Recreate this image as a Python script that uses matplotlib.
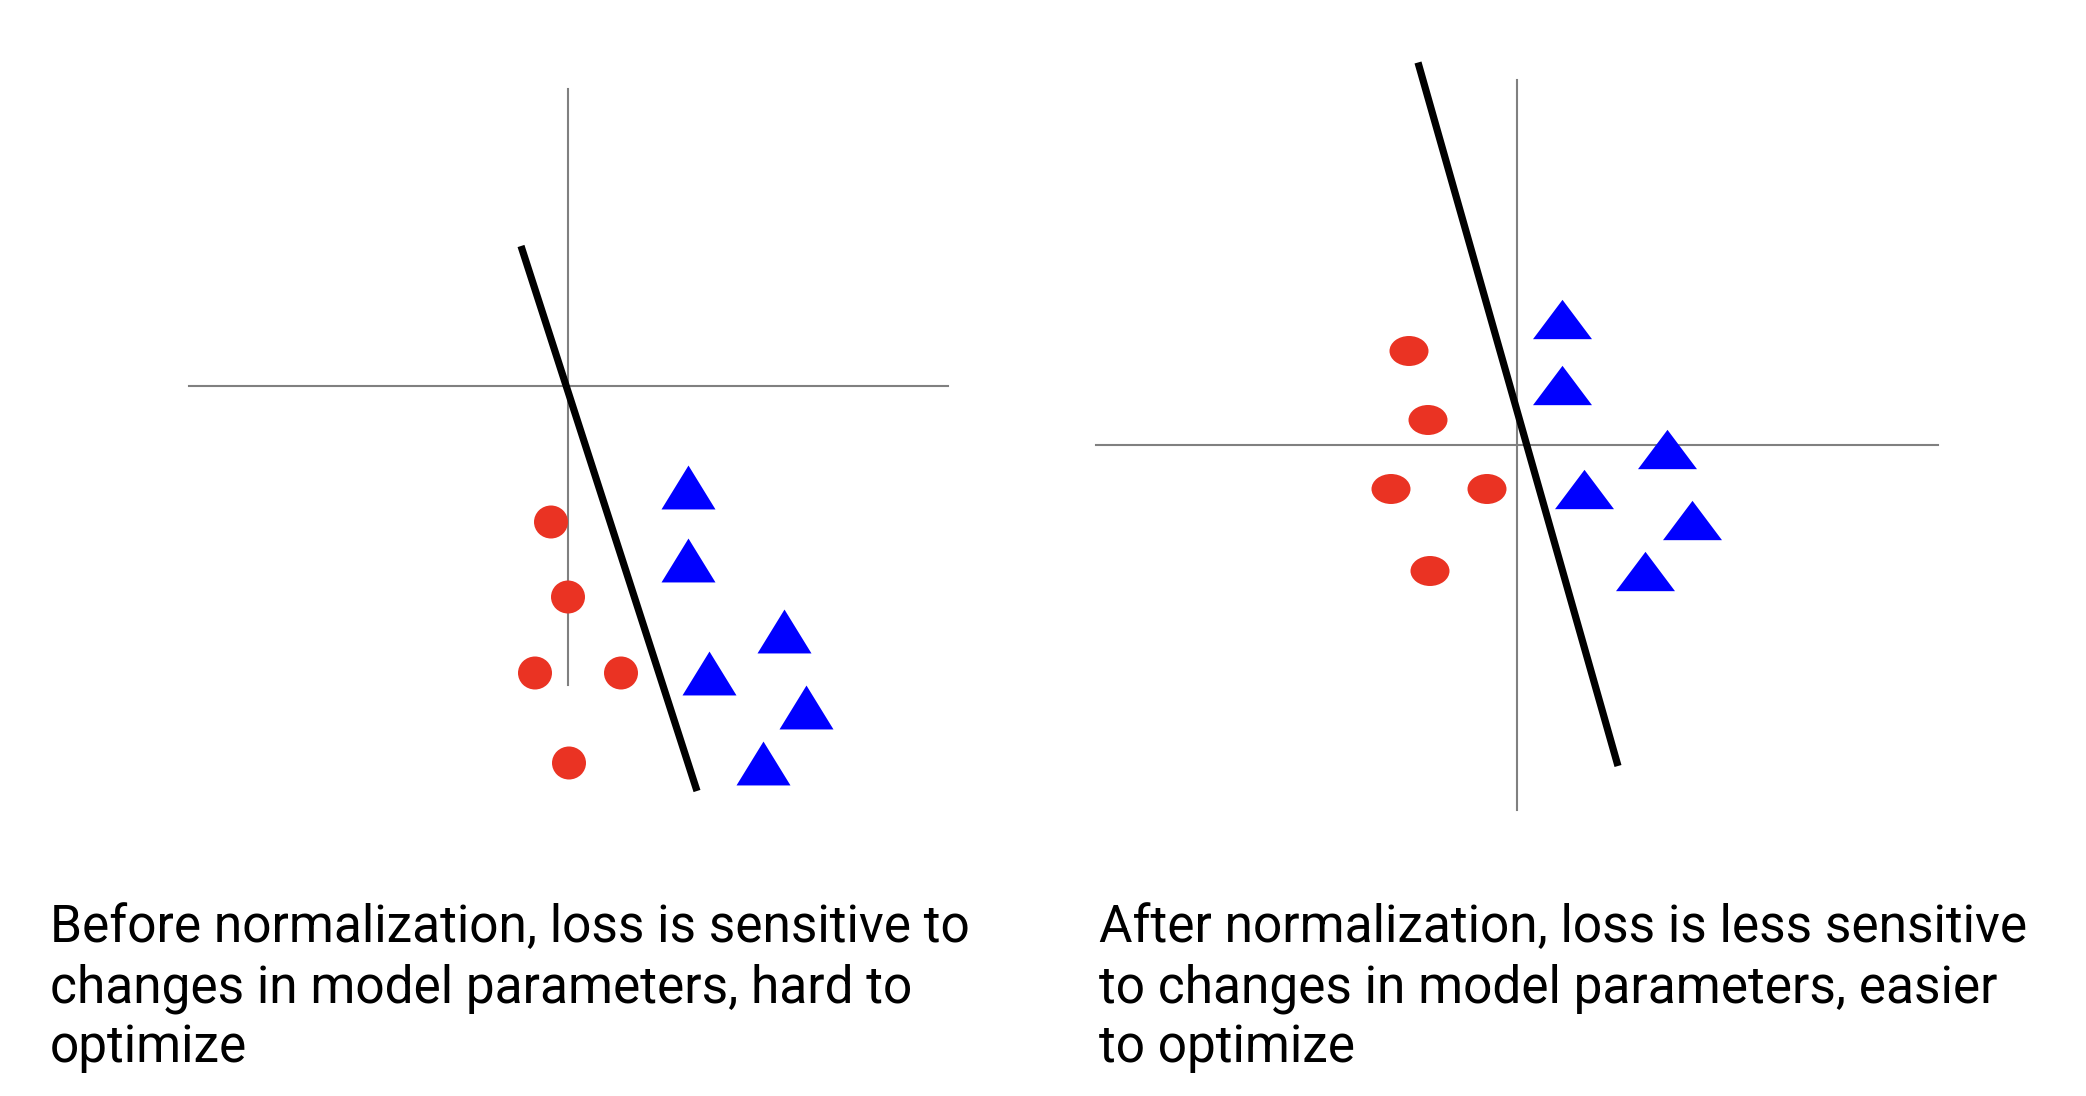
import numpy as np
import matplotlib
matplotlib.use('Agg')
import matplotlib.pyplot as plt
from matplotlib.patches import Ellipse

# coordinates in units of 50 px, origin where the gray axes cross
# left panel : before normalization
before_red_x = [-0.34, 0.0, -0.66, 1.06, 0.02]
before_red_y = [-2.72, -4.22, -5.74, -5.74, -7.54]
before_blue_x = [2.4, 2.4, 4.32, 2.82, 4.76, 3.9]
before_blue_y = [-2.02, -3.48, -4.9, -5.74, -6.42, -7.54]
before_line_x = [-0.94, 2.58]
before_line_y = [2.8, -8.1]
before_haxis = [-7.58, 7.6]
before_vaxis = [-5.98, 5.94]

# right panel : after normalization
after_red_x = [-2.16, -1.78, -2.52, -0.6, -1.74]
after_red_y = [1.88, 0.5, -0.88, -0.88, -2.52]
after_blue_x = [0.9, 0.9, 3.0, 1.34, 3.5, 2.56]
after_blue_y = [2.52, 1.2, -0.08, -0.88, -1.5, -2.52]
after_line_x = [-1.98, 2.02]
after_line_y = [7.65, -6.42]
after_haxis = [-8.42, 8.42]
after_vaxis = [-7.3, 7.3]

captions = [
    ["Before normalization, loss is sensitive to",
     "changes in model parameters, hard to",
     "optimize"],
    ["After normalization, loss is less sensitive",
     "to changes in model parameters, easier",
     "to optimize"],
]

RED = '#EA3323'
BLUE = '#0000FF'
GRAY = '#808080'

W, H = 2086, 1096
fig = plt.figure(figsize=(W / 100, H / 100), dpi=100)


def tri_marker(ratio):
    # isoceles triangle wider than tall
    return [(-ratio, -1), (ratio, -1), (0, 1), (-ratio, -1)]


def panel(rect, xlim, ylim, rx, ry, bx, by, lx, ly, hax, vax, ell, tri_w, tri_ratio):
    ax = fig.add_axes(rect)
    ax.set_xlim(*xlim)
    ax.set_ylim(*ylim)
    ax.set_axis_off()
    ax.plot(hax, [0, 0], color=GRAY, lw=1.5, zorder=1)
    ax.plot([0, 0], vax, color=GRAY, lw=1.5, zorder=1)
    ax.plot(lx, ly, color='black', lw=5.2, solid_capstyle='butt', zorder=2)
    for x, y in zip(rx, ry):
        ax.add_patch(Ellipse((x, y), ell[0], ell[1], color=RED, lw=0, zorder=3))
    ax.plot(bx, by, ls='none', marker=tri_marker(tri_ratio),
            markersize=tri_w * 0.72, color=BLUE, markeredgewidth=0, zorder=3)
    return ax


top = 870
rect_h = top / H
panel([0, (H - top) / H, 1043 / W, rect_h],
      ((0 - 568) / 50, (1043 - 568) / 50), ((386 - top) / 50, 386 / 50),
      before_red_x, before_red_y, before_blue_x, before_blue_y,
      before_line_x, before_line_y, before_haxis, before_vaxis,
      (0.68, 0.66), 54, 1.23)
panel([1043 / W, (H - top) / H, 1043 / W, rect_h],
      ((1043 - 1517) / 50, (2086 - 1517) / 50), ((445 - top) / 50, 445 / 50),
      after_red_x, after_red_y, after_blue_x, after_blue_y,
      after_line_x, after_line_y, after_haxis, after_vaxis,
      (0.78, 0.6), 59, 1.5)

# captions
fam = ['Liberation Sans Narrow', 'Roboto', 'DejaVu Sans']
x_px = [50, 1099]
base_px = [942, 1002, 1062]
texts = []
for col, lines in enumerate(captions):
    for row, s in enumerate(lines):
        t = fig.text(x_px[col] / W, 1 - base_px[row] / H, s, family=fam,
                     fontsize=36, va='baseline', ha='left', color='black')
        texts.append(t)

# fit the font size so the first line spans the same width as in the picture
fig.canvas.draw()
r = fig.canvas.get_renderer()
w = texts[0].get_window_extent(r).width
fs = 36 * (971 - 50) / w
for t in texts:
    t.set_fontsize(fs)

fig.savefig('out.png', dpi=100)
